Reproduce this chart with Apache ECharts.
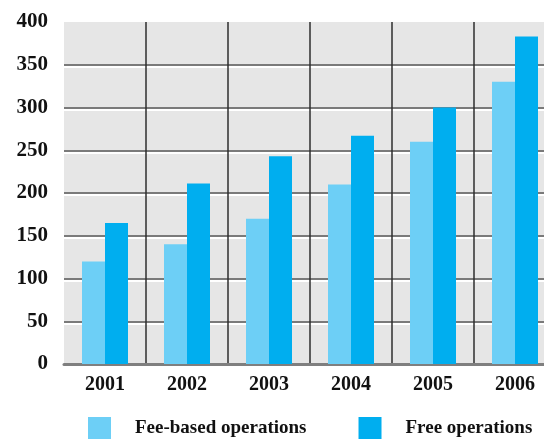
<!DOCTYPE html>
<html>
<head>
<meta charset="utf-8">
<script src="https://cdn.jsdelivr.net/npm/echarts@6/dist/echarts.min.js"></script>
<style>
  html, body { margin: 0; padding: 0; background: #fff; overflow: hidden; }
  /* the plot runs past the right edge of the window */
  #chart { width: 556px; height: 439px; }
</style>
</head>
<body>
<div id="chart"></div>
<script>
// Yearly figures for the two kinds of operations
const years = ['2001', '2002', '2003', '2004', '2005', '2006'];
const feeBased = [120, 140, 170, 210, 260, 330];
const freeOps = [165, 211, 243, 267, 300, 383];
const yTicks = { min: 0, max: 400, step: 50 };

const serif = '"Liberation Serif", "DejaVu Serif", serif';

const chart = echarts.init(document.getElementById('chart'), null, { renderer: 'canvas' });

chart.setOption({
  animation: false,
  grid: {
    left: 64,
    right: 0,
    top: 22,
    bottom: 75,
    show: true,
    backgroundColor: '#e6e6e6',
    borderWidth: 0
  },
  legend: {
    left: 88,
    top: 417,
    padding: 0,
    itemWidth: 23,
    itemHeight: 23,
    itemGap: 52,
    icon: 'rect',
    textStyle: {
      fontFamily: serif,
      fontWeight: 'bold',
      fontSize: 19,
      color: '#111',
      padding: [0, 0, 0, 19]
    },
    data: ['Fee-based operations', 'Free operations']
  },
  xAxis: {
    type: 'category',
    data: years,
    axisLine: { show: true, lineStyle: { color: '#7f7f7f', width: 3 } },
    axisTick: { show: false },
    axisLabel: {
      margin: 11,
      fontFamily: serif,
      fontWeight: 'bold',
      fontSize: 20,
      color: '#111'
    },
    splitLine: {
      show: true,
      showMinLine: false,
      lineStyle: { color: '#2e2e2e', width: 1.5 }
    }
  },
  yAxis: {
    type: 'value',
    min: yTicks.min,
    max: yTicks.max,
    interval: yTicks.step,
    axisLine: { show: false },
    axisTick: { show: false },
    axisLabel: {
      margin: 16,
      fontFamily: serif,
      fontWeight: 'bold',
      fontSize: 21,
      color: '#111'
    },
    splitLine: {
      show: true,
      showMaxLine: false,
      lineStyle: {
        color: '#7a7a7a',
        width: 2,
        shadowColor: '#ffffff',
        shadowBlur: 0,
        shadowOffsetY: 2
      }
    }
  },
  series: [
    {
      name: 'Fee-based operations',
      type: 'bar',
      data: feeBased,
      barWidth: 23,
      barGap: '0%',
      itemStyle: { color: '#6dcff6' }
    },
    {
      name: 'Free operations',
      type: 'bar',
      data: freeOps,
      barWidth: 23,
      barGap: '0%',
      itemStyle: { color: '#00aeef' }
    }
  ]
});
</script>
</body>
</html>
